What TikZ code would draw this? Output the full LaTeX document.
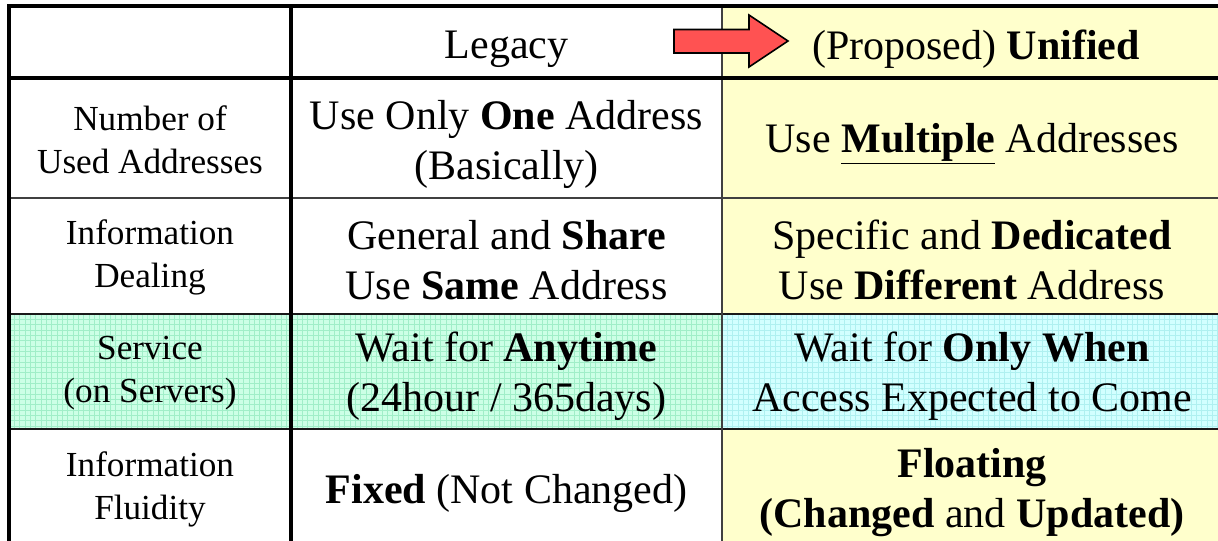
\documentclass[tikz,border=0pt]{standalone}
\usepackage{fontspec}
\setmainfont{Liberation Serif}
\definecolor{paleyellow}{RGB}{255,255,204}
\definecolor{mint}{RGB}{204,255,230}
\definecolor{mintgrid}{RGB}{160,238,200}
\definecolor{paleCyan}{RGB}{210,255,255}
\definecolor{cyangrid}{RGB}{175,240,240}
\definecolor{arrowred}{RGB}{255,82,82}
\tikzset{
  maintext/.style={inner sep=0pt, align=center, font=\fontsize{21}{25}\selectfont},
  sidetext/.style={inner sep=0pt, align=center, font=\fontsize{17.6}{21.5}\selectfont},
  heavyrule/.style={line width=2pt, black},
  midrule/.style={line width=1.1pt, black!90},
  thinrule/.style={line width=0.8pt, black!75},
}
\begin{document}
\begin{tikzpicture}[x=0.5pt,y=-0.5pt]
\useasboundingbox (0,0) rectangle (1218,540);
\clip (0,0) rectangle (1218,540);
\fill[white] (0,0) rectangle (1218,540);
% column 3 yellow
\fill[paleyellow] (722,6) rectangle (1240,560);
% service row fills
\fill[mint] (9,314) rectangle (722,429);
\fill[paleCyan] (722,314) rectangle (1240,429);
\begin{scope}
  \clip (9,314) rectangle (722,429);
  \foreach \i in {0,...,135} \draw[mintgrid, line width=0.3pt] (9+\i*5.33,314) -- ++(0,115);
  \foreach \j in {0,...,22} \draw[mintgrid, line width=0.3pt] (9,314+\j*5.33) -- ++(713,0);
\end{scope}
\begin{scope}
  \clip (722,314) rectangle (1240,429);
  \foreach \i in {0,...,100} \draw[cyangrid, line width=0.3pt] (722+\i*5.33,314) -- ++(0,115);
  \foreach \j in {0,...,22} \draw[cyangrid, line width=0.3pt] (722,314+\j*5.33) -- ++(518,0);
\end{scope}
% rules
\draw[thinrule] (9,198) -- (1240,198);
\draw[midrule] (9,314) -- (1240,314);
\draw[midrule] (9,429) -- (1240,429);
\draw[thinrule] (722,6) -- (722,560);
\draw[heavyrule] (9,78) -- (1240,78);
\draw[heavyrule] (291,6) -- (291,560);
\draw[heavyrule] (9,560) -- (9,6) -- (1240,6);
% arrow
\draw[arrowred, fill=arrowred, draw=black, line width=0.8pt, line join=miter]
  (674,29.5) -- (749,29.5) -- (749,15) -- (788,41) -- (749,67) -- (749,53) -- (674,53) -- cycle;
% header
\node[maintext] (hlegacy) at (506.5,49) {Legacy};
\node[maintext] (hunified) at (976,49) {(Proposed) \textbf{Unified}};
% row labels
\node[sidetext] (lnum) at (150,140) {Number of\\Used Addresses};
\node[sidetext] (linfo) at (150,257) {Information\\Dealing};
\node[sidetext] (lserv) at (150,373) {Service\\(on Servers)};
\node[sidetext] (lfluid) at (150,489) {Information\\Fluidity};
% legacy column
\node[maintext] (cnum) at (506.5,144) {Use Only \textbf{One} Address\\(Basically)};
\node[maintext] (cinfo) at (506.5,260) {General and \textbf{Share}\\Use \textbf{Same} Address};
\node[maintext] (cserv) at (506.5,376) {Wait for \textbf{Anytime}\\(24hour / 365days)};
\node[maintext] (cfluid) at (506.5,493) {\textbf{Fixed} (Not Changed)};
% unified column
\node[maintext] (unum) at (972,144) {Use \underline{\textbf{Multiple}} Addresses};
\node[maintext] (uinfo) at (972,260) {Specific and \textbf{Dedicated}\\Use \textbf{Different} Address};
\node[maintext] (userv) at (972,376) {Wait for \textbf{Only When}\\Access Expected to Come};
\node[maintext] (ufluid) at (972,493) {\textbf{Floating}\\\textbf{(Changed} and \textbf{Updated)}};
\end{tikzpicture}
\end{document}
